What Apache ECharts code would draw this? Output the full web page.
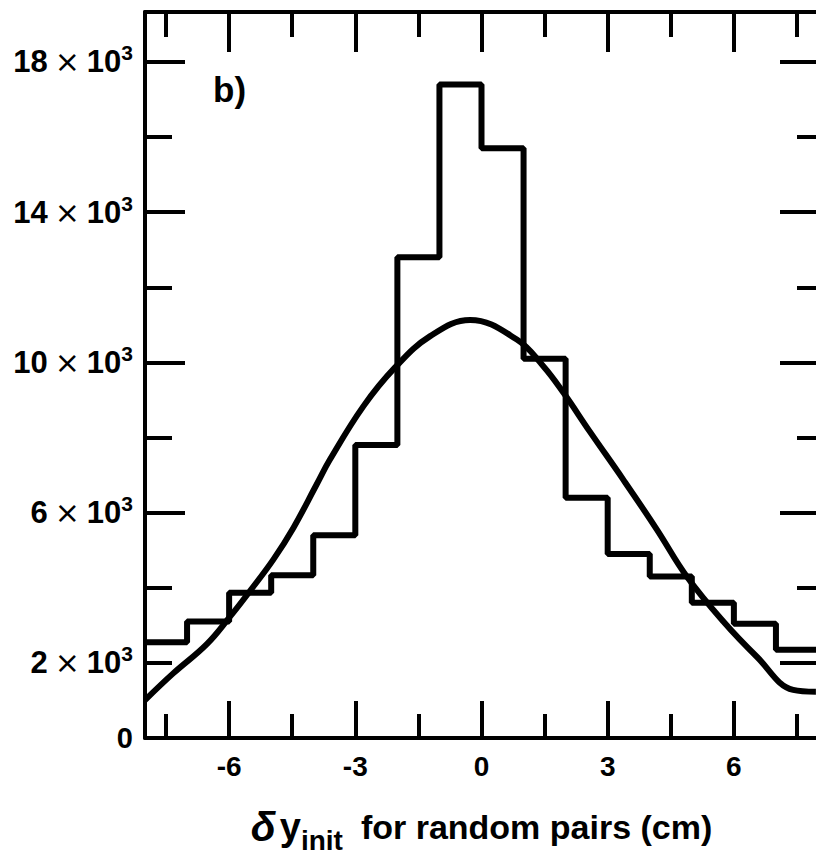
<!DOCTYPE html>
<html><head><meta charset="utf-8">
<script src="https://cdn.jsdelivr.net/npm/echarts@6/dist/echarts.min.js"></script>
<style>html,body{margin:0;padding:0;background:#fff}#c{width:816px;height:860px}</style>
</head><body><div id="c"></div><script>
// Histogram bins (cm) and counts
const binEdges = [-8,-7,-6,-5,-4,-3,-2,-1,0,1,2,3,4,5,6,7,8];
const binCounts = [2550,3100,3870,4330,5400,7800,12800,17400,15700,10100,6400,4900,4300,3600,3040,2350];
// Fitted curve
const curveX = [-8.0,-7.33,-6.53,-5.98,-5.5,-4.95,-4.47,-3.92,-3.61,-2.81,-2.06,-1.22,-0.27,0.84,1.47,1.95,2.58,3.37,4.17,4.88,5.75,6.54,7.41,7.95];
const curveY = [1010,1720,2500,3230,3920,4750,5600,6750,7400,8830,9860,10700,11130,10610,9900,9190,8150,6880,5550,4300,3100,2170,1280,1230];
// Ticks and labels
const xMajorTicks = [-6,-3,0,3,6];
const xMinorTicks = [-7.5,-4.5,-1.5,1.5,4.5,7.5];
const yLabelValues = [0,2000,6000,10000,14000,18000];
const yMajorTicks = [6000,10000,14000,18000];
const yMinorTicks = [2000,4000,8000,12000,16000];
const yRightMajor = [2000,6000,10000,14000,18000];
const yRightMinor = [4000,8000,12000,16000];

const FONT = 'Liberation Sans, Arial, sans-serif';
const histData = binEdges.map((e,i)=>[e, binCounts[Math.min(i, binCounts.length-1)]]);
const curveData = curveX.map((x,i)=>[x, curveY[i]]);

function xAx(pos, ticks, len, labels, line, extra) {
  return Object.assign({
    type:'value', position:pos, min:-8, max:8,
    axisLine:{show:line, onZero:false, lineStyle:{color:'#000', width:4}},
    axisTick:{show:true, inside:true, length:len, customValues:ticks, lineStyle:{color:'#000', width:4}},
    axisLabel: labels ? {show:true, customValues:labels, margin:14, color:'#000', fontFamily:FONT, fontWeight:'bold', fontSize:28,
      formatter: v => String(v)} : {show:false},
    splitLine:{show:false}
  }, extra||{});
}
function yAx(pos, ticks, len, labels, line) {
  return {
    type:'value', position:pos, min:0, max:19330,
    axisLine:{show:line, onZero:false, lineStyle:{color:'#000', width:4}},
    axisTick:{show:true, inside:true, length:len, customValues:ticks, lineStyle:{color:'#000', width:4}},
    axisLabel: labels ? {show:true, customValues:labels, margin:12, color:'#000', fontSize:28,
      formatter: v => v===0 ? '{z|0}' : '{n|'+(v/1000)+'}{x|×}{n|10}{s|3}',
      rich:{
        z:{fontFamily:FONT, fontWeight:'bold', fontSize:29, color:'#000'},
        n:{fontFamily:FONT, fontWeight:'bold', fontSize:31, color:'#000'},
        x:{fontFamily:'DejaVu Sans, sans-serif', fontWeight:'normal', fontSize:30, color:'#000', padding:[0,7,0,7]},
        s:{fontFamily:FONT, fontWeight:'bold', fontSize:21, color:'#000', padding:[0,0,18,0]}
      }} : {show:false},
    splitLine:{show:false}
  };
}

const chart = echarts.init(document.getElementById('c'), null, {renderer:'svg'});
chart.setOption({
  backgroundColor:'#fff',
  animation:false,
  grid:{left:145, top:12, right:-2, bottom:122, containLabel:false, outerBoundsMode:'none'},
  xAxis:[
    xAx('bottom', xMajorTicks, 37, xMajorTicks, true, {
      name:'{d|δ}{y|y}{sub|init}{t|for random pairs (cm)}',
      nameLocation:'middle', nameGap:68,
      nameTextStyle:{rich:{
        d:{fontFamily:FONT, fontStyle:'italic', fontWeight:'bold', fontSize:41, color:'#000', verticalAlign:'top', padding:[0,4,0,0]},
        y:{fontFamily:FONT, fontWeight:'bold', fontSize:38, color:'#000', verticalAlign:'top', padding:[2,0,0,0]},
        sub:{fontFamily:FONT, fontWeight:'bold', fontSize:28, color:'#000', verticalAlign:'top', padding:[20,18,0,0]},
        t:{fontFamily:FONT, fontWeight:'bold', fontSize:34, color:'#000', verticalAlign:'top', padding:[4,0,0,0]}
      }}
    }),
    xAx('bottom', xMinorTicks, 24, null, false),
    xAx('top', xMajorTicks, 40, null, true),
    xAx('top', xMinorTicks, 25, null, false)
  ],
  yAxis:[
    yAx('left', yMajorTicks, 40, yLabelValues, true),
    yAx('left', yMinorTicks, 27, null, false),
    yAx('right', yRightMajor, 38, null, true),
    yAx('right', yRightMinor, 21, null, false)
  ],
  graphic:[{type:'text', left:213, top:72, style:{text:'b)', fontFamily:FONT, fontWeight:'bold', fontSize:35, fill:'#000'}}],
  series:[
    {type:'line', name:'histogram', xAxisIndex:0, yAxisIndex:0, data:histData, step:'end', showSymbol:false,
      lineStyle:{color:'#000', width:6}, z:3},
    {type:'line', name:'fit', xAxisIndex:0, yAxisIndex:0, data:curveData, smooth:0.4, showSymbol:false,
      lineStyle:{color:'#000', width:6}, z:4}
  ]
});
</script></body></html>
